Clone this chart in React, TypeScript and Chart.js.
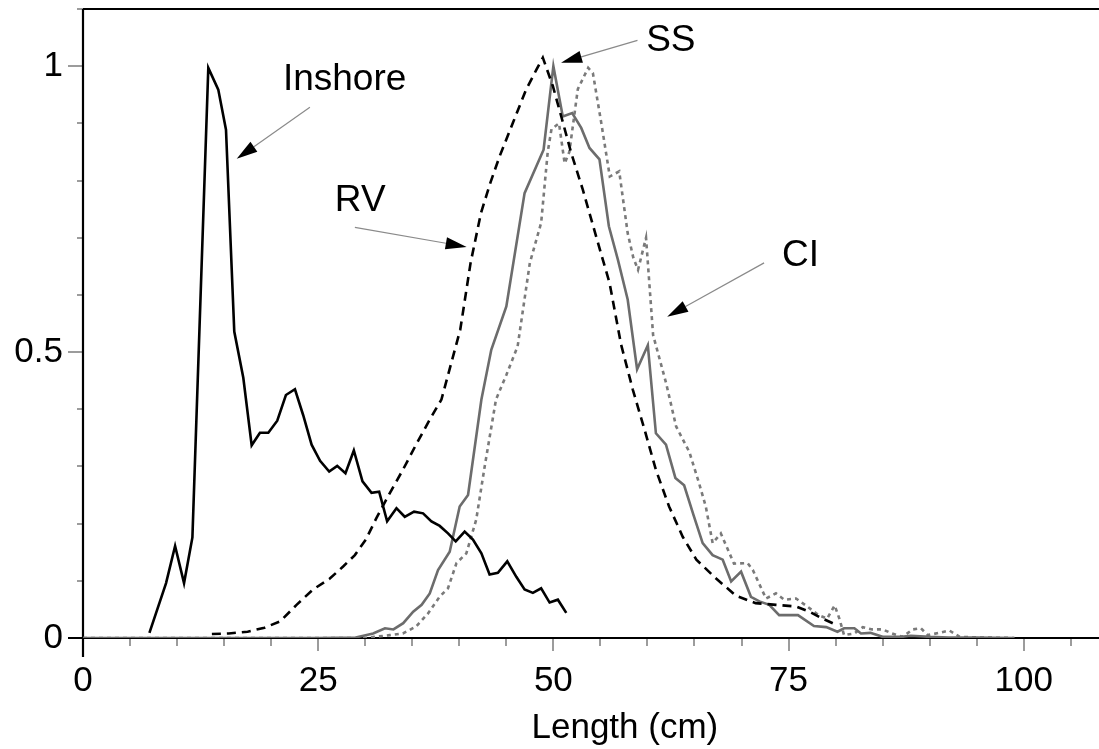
import React, { useEffect, useRef } from "react";
import { Chart, registerables } from "chart.js";

Chart.register(...registerables);

// ---------- data (length in cm, relative frequency) ----------
const inshoreX = [7.06, 8.83, 9.79, 10.74, 11.63, 13.32, 14.38, 15.2, 16.08, 17.04, 17.93, 18.81, 19.7, 20.65, 21.57, 22.53, 23.4, 24.3, 25.2, 26.17, 27.02, 27.9, 28.79, 29.71, 30.67, 31.48, 32.33, 33.32, 34.2, 35.19, 36.15, 37.04, 37.92, 38.8, 39.62, 40.57, 41.45, 42.35, 43.22, 44.1, 45.1, 46.06, 46.94, 47.82, 48.7, 49.6, 50.48, 51.37];
const inshoreY = [0.009, 0.096, 0.161, 0.096, 0.176, 0.997, 0.959, 0.889, 0.536, 0.455, 0.337, 0.359, 0.359, 0.38, 0.425, 0.435, 0.39, 0.338, 0.31, 0.291, 0.301, 0.288, 0.328, 0.274, 0.254, 0.256, 0.204, 0.227, 0.212, 0.221, 0.218, 0.204, 0.196, 0.183, 0.169, 0.186, 0.172, 0.148, 0.111, 0.114, 0.134, 0.107, 0.085, 0.079, 0.087, 0.062, 0.067, 0.044];

const rvX = [13.7, 15.5, 17.5, 19.3, 20.95, 22.7, 24.47, 26.24, 27.65, 28.9, 30.06, 31.2, 32.6, 34.0, 35.4, 36.86, 38.1, 40.1, 41.2, 42.3, 43.3, 44.3, 45.7, 47.1, 48.2, 48.88, 49.95, 50.84, 51.9, 53.13, 54.55, 55.97, 57.2, 58.45, 59.7, 60.9, 62.3, 63.75, 65.2, 67.3, 69.4, 71.5, 73.66, 75.8, 77.2, 78.6, 79.8];
const rvY = [0.007, 0.008, 0.011, 0.018, 0.029, 0.058, 0.085, 0.104, 0.125, 0.145, 0.172, 0.21, 0.253, 0.294, 0.338, 0.382, 0.417, 0.539, 0.656, 0.743, 0.796, 0.843, 0.901, 0.959, 0.994, 1.015, 0.965, 0.912, 0.848, 0.784, 0.702, 0.621, 0.513, 0.434, 0.364, 0.294, 0.23, 0.177, 0.137, 0.104, 0.074, 0.061, 0.058, 0.055, 0.046, 0.034, 0.025];

const ssX = [0, 5, 10, 15, 20, 25, 29, 30.84, 32.1, 33.0, 34.04, 35.1, 36.0, 36.86, 37.74, 38.98, 40.04, 40.93, 42.35, 43.4, 45.0, 46.94, 48.96, 50.0, 51.0, 52.0, 52.96, 53.84, 54.9, 55.9, 56.85, 57.9, 58.9, 60.04, 60.9, 61.97, 62.97, 63.9, 64.9, 65.87, 66.93, 68.0, 68.9, 69.95, 71.0, 71.9, 72.95, 74.0, 75.1, 76.0, 77.7, 79.0, 80.2, 80.9, 82.0, 82.7, 83.7, 85.0, 87.0, 88.0, 90.0, 92.0, 95.0, 99.0];
const ssY = [0, 0, 0, 0, 0, 0, 0.001, 0.008, 0.017, 0.015, 0.026, 0.046, 0.058, 0.078, 0.119, 0.151, 0.23, 0.25, 0.417, 0.504, 0.58, 0.778, 0.854, 1.0, 0.912, 0.918, 0.892, 0.857, 0.837, 0.72, 0.662, 0.592, 0.47, 0.512, 0.358, 0.338, 0.28, 0.267, 0.215, 0.166, 0.145, 0.137, 0.099, 0.116, 0.072, 0.064, 0.058, 0.04, 0.04, 0.04, 0.021, 0.019, 0.011, 0.017, 0.017, 0.008, 0.009, 0.002, 0.002, 0.004, 0.002, 0.001, 0.001, 0];

const ciX = [0, 5, 10, 15, 20, 25, 30, 32.6, 34.0, 35.4, 36.68, 37.9, 38.8, 39.7, 40.75, 41.8, 42.7, 43.9, 45.0, 46.2, 47.5, 48.7, 49.4, 49.8, 50.6, 51.2, 51.7, 52.6, 53.7, 54.2, 55.1, 56.0, 57.0, 57.9, 58.5, 59.0, 59.85, 60.6, 61.98, 63.05, 64.46, 65.5, 66.2, 66.93, 67.8, 69.2, 70.65, 71.2, 72.6, 73.66, 74.55, 75.8, 77.0, 78.2, 79.1, 79.9, 80.4, 80.9, 82.0, 82.9, 83.9, 85.0, 86.0, 87.1, 88.2, 89.07, 89.8, 91.0, 92.1, 93.2, 95.0, 99.0];
const ciY = [0, 0, 0, 0, 0, 0, 0, 0.005, 0.008, 0.02, 0.043, 0.072, 0.087, 0.131, 0.148, 0.207, 0.3, 0.417, 0.46, 0.51, 0.656, 0.726, 0.85, 0.89, 0.9, 0.83, 0.85, 0.96, 0.997, 0.988, 0.9, 0.807, 0.816, 0.708, 0.665, 0.644, 0.7, 0.53, 0.446, 0.37, 0.325, 0.27, 0.23, 0.166, 0.183, 0.13, 0.131, 0.119, 0.069, 0.078, 0.067, 0.069, 0.055, 0.04, 0.034, 0.057, 0.034, 0.005, 0.008, 0.019, 0.015, 0.015, 0.008, 0.002, 0.015, 0.017, 0.005, 0.009, 0.013, 0.002, 0.001, 0];

const xLabelValues = [0, 25, 50, 75, 100];
const yLabelValues = [0, 0.5, 1];
const xAxisTitle = "Length (cm)";
const xAxisTitleCenter = 57.6; // data units along x

// annotation labels with arrows (positions in data units)
const noteLabels = ["Inshore", "RV", "SS", "CI"];
const noteTextLeft = [21.25, 26.77, 59.86, 74.3];
const noteTextBase = [0.959, 0.746, 1.026, 0.651];
const noteTailX = [24.12, 28.9, 58.94, 72.4];
const noteTailY = [0.928, 0.718, 1.045, 0.656];
const noteTipX = [16.34, 40.78, 50.82, 62.1];
const noteTipY = [0.838, 0.684, 1.006, 0.562];

const FONT = "'Liberation Sans', Arial, Helvetica, sans-serif";

const toPoints = (xs: number[], ys: number[]) => xs.map((x, i) => ({ x, y: ys[i] }));

const axesPlugin = {
  id: "customAxes",
  beforeDatasetsDraw(chart: any) {
    const { ctx, chartArea } = chart;
    const xs = chart.scales.x;
    const ys = chart.scales.y;
    const x0 = xs.getPixelForValue(0);
    const y0 = ys.getPixelForValue(0);
    ctx.save();
    ctx.lineCap = "butt";
    // tick marks
    ctx.strokeStyle = "#9c9c9c";
    ctx.lineWidth = 2;
    for (const t of xs.ticks) {
      const px = Math.round(xs.getPixelForValue(t.value));
      const major = xLabelValues.includes(t.value);
      ctx.beginPath();
      ctx.moveTo(px, y0);
      ctx.lineTo(px, y0 + (major ? 13 : 8));
      ctx.stroke();
    }
    for (const t of ys.ticks) {
      const v = Math.round(t.value * 10) / 10;
      const py = Math.round(ys.getPixelForValue(v));
      const major = yLabelValues.includes(v);
      ctx.beginPath();
      ctx.moveTo(x0 - (major ? 15 : 6), py);
      ctx.lineTo(x0, py);
      ctx.stroke();
    }
    // axes and top frame
    ctx.strokeStyle = "#000";
    ctx.lineWidth = 2.2;
    ctx.beginPath();
    ctx.moveTo(x0 - 15, y0);
    ctx.lineTo(chartArea.right, y0);
    ctx.stroke();
    ctx.beginPath();
    ctx.moveTo(x0, chartArea.top);
    ctx.lineTo(x0, y0 + 19);
    ctx.stroke();
    ctx.beginPath();
    ctx.moveTo(x0, chartArea.top);
    ctx.lineTo(chartArea.right, chartArea.top);
    ctx.stroke();
    // axis title
    ctx.font = `35px ${FONT}`;
    ctx.fillStyle = "#000";
    ctx.textAlign = "center";
    ctx.textBaseline = "alphabetic";
    ctx.fillText(xAxisTitle, xs.getPixelForValue(xAxisTitleCenter), y0 + 100);
    ctx.restore();
  },
  afterDatasetsDraw(chart: any) {
    const { ctx } = chart;
    const xs = chart.scales.x;
    const ys = chart.scales.y;
    ctx.save();
    ctx.font = `37px ${FONT}`;
    ctx.fillStyle = "#000";
    ctx.textAlign = "left";
    ctx.textBaseline = "alphabetic";
    noteLabels.forEach((label, i) => {
      ctx.fillStyle = "#000";
      ctx.fillText(label, xs.getPixelForValue(noteTextLeft[i]), ys.getPixelForValue(noteTextBase[i]));
      const tx = xs.getPixelForValue(noteTailX[i]);
      const ty = ys.getPixelForValue(noteTailY[i]);
      const hx = xs.getPixelForValue(noteTipX[i]);
      const hy = ys.getPixelForValue(noteTipY[i]);
      const ang = Math.atan2(hy - ty, hx - tx);
      const len = 21;
      const half = 6;
      const bx = hx - len * Math.cos(ang);
      const by = hy - len * Math.sin(ang);
      ctx.strokeStyle = "#8a8a8a";
      ctx.lineWidth = 1.2;
      ctx.beginPath();
      ctx.moveTo(tx, ty);
      ctx.lineTo(bx, by);
      ctx.stroke();
      ctx.fillStyle = "#000";
      ctx.beginPath();
      ctx.moveTo(hx, hy);
      ctx.lineTo(bx + half * Math.sin(ang), by - half * Math.cos(ang));
      ctx.lineTo(bx - half * Math.sin(ang), by + half * Math.cos(ang));
      ctx.closePath();
      ctx.fill();
    });
    ctx.restore();
  },
};

export default function App() {
  const canvasRef = useRef<HTMLCanvasElement | null>(null);

  useEffect(() => {
    if (!canvasRef.current) return;
    const chart = new Chart(canvasRef.current, {
      type: "line",
      data: {
        datasets: [
          { label: "Inshore", data: toPoints(inshoreX, inshoreY), borderColor: "#000", borderWidth: 2.6, pointRadius: 0, tension: 0, fill: false },
          { label: "RV", data: toPoints(rvX, rvY), borderColor: "#000", borderWidth: 2.6, borderDash: [9, 6], pointRadius: 0, tension: 0, fill: false },
          { label: "SS", data: toPoints(ssX, ssY), borderColor: "#6c6c6c", borderWidth: 2.6, pointRadius: 0, tension: 0, fill: false },
          { label: "CI", data: toPoints(ciX, ciY), borderColor: "#7a7a7a", borderWidth: 2.6, borderDash: [4, 4], pointRadius: 0, tension: 0, fill: false },
        ],
      },
      options: {
        animation: false,
        responsive: false,
        maintainAspectRatio: false,
        layout: { padding: { top: 9, left: 0, right: 0, bottom: 0 } },
        plugins: { legend: { display: false }, tooltip: { enabled: false }, title: { display: false } },
        scales: {
          x: {
            type: "linear",
            min: 0,
            max: 108,
            grid: { display: false },
            border: { display: false },
            ticks: {
              stepSize: 5,
              includeBounds: false,
              autoSkip: false,
              maxRotation: 0,
              padding: 14,
              color: "#000",
              font: { family: FONT, size: 35 },
              callback: (v: any) => (xLabelValues.includes(Number(v)) ? String(v) : ""),
            },
            afterFit: (s: any) => {
              s.height = 111;
              s.paddingLeft = 0;
              s.paddingRight = 0;
            },
          },
          y: {
            type: "linear",
            min: 0,
            max: 1.1,
            grid: { display: false },
            border: { display: false },
            ticks: {
              stepSize: 0.1,
              autoSkip: false,
              padding: 12,
              color: "#000",
              font: { family: FONT, size: 35 },
              callback: (v: any) => {
                const r = Math.round(Number(v) * 10) / 10;
                return yLabelValues.includes(r) ? String(r) : "";
              },
            },
            afterFit: (s: any) => {
              s.width = 83;
              s.paddingTop = 0;
              s.paddingBottom = 0;
            },
          },
        },
      },
      plugins: [axesPlugin],
    });
    return () => chart.destroy();
  }, []);

  return (
    <div style={{ position: "absolute", left: 0, top: 0, width: 1099, height: 749, background: "#fff" }}>
      <canvas ref={canvasRef} width={1099} height={749} style={{ display: "block" }} />
    </div>
  );
}
